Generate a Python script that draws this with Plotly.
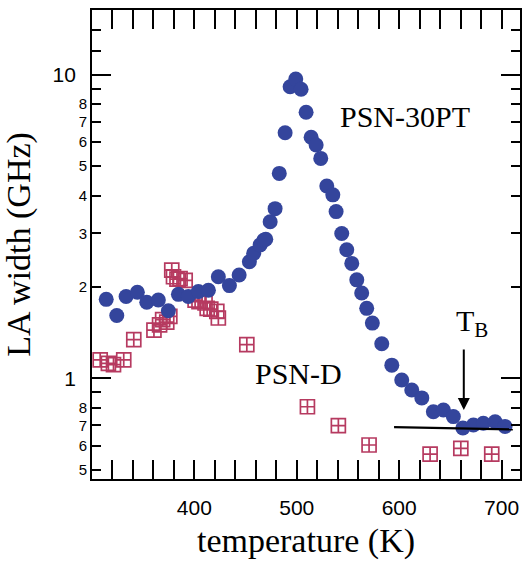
import numpy as np
import plotly.graph_objects as go

# PSN-30PT (filled circles)
t_30pt = [313.9, 324.2, 333.3, 344.3, 353.5, 364.8, 374.6, 384.4, 394.1, 403.9,
          413.7, 423.4, 434.2, 443.7, 453.7, 457.9, 464.2, 467.7, 469.7, 474.0,
          478.8, 482.9, 488.6, 493.5, 499.0, 504.2, 509.1, 514.0, 518.9, 523.4,
          529.3, 535.2, 538.4, 543.9, 548.8, 553.7, 558.6, 563.4, 568.3, 573.8,
          583.0, 592.8, 602.5, 612.3, 622.1, 633.4, 643.2, 652.9, 662.2, 672.5,
          682.2, 693.7, 703.4]
w_30pt = [1.82, 1.61, 1.86, 1.92, 1.78, 1.81, 1.67, 1.89, 1.86, 1.93,
          1.95, 2.16, 2.02, 2.19, 2.42, 2.58, 2.75, 2.85, 2.87, 3.28,
          3.62, 4.73, 6.44, 9.13, 9.68, 8.95, 7.52, 6.22, 5.87, 5.30,
          4.30, 4.02, 3.54, 3.00, 2.65, 2.39, 2.11, 1.91, 1.70, 1.52,
          1.30, 1.105, 0.987, 0.915, 0.862, 0.776, 0.786, 0.748, 0.686, 0.702,
          0.711, 0.719, 0.694]

# PSN-D (open squares with cross)
t_d = [308.0, 316.0, 321.0, 331.0, 340.8, 360.5, 366.0, 369.0, 373.0, 376.0,
       377.9, 379.6, 383.0, 386.0, 391.0, 400.7, 404.5, 410.4, 412.5, 416.0,
       421.9, 423.4, 451.2, 510.4, 540.6, 570.6, 630.2, 660.2, 690.4]
w_d = [1.15, 1.12, 1.11, 1.15, 1.34, 1.44, 1.50, 1.56, 1.53, 1.60,
       2.27, 2.16, 2.12, 2.13, 2.10, 1.81, 1.79, 1.77, 1.70, 1.69,
       1.66, 1.58, 1.29, 0.806, 0.698, 0.603, 0.563, 0.588, 0.563]

# baseline line near T_B
t_line = [595.0, 711.0]
w_line = [0.690, 0.679]

# T_B arrow
tb_x = 663.1
tb_top = 1.258
tb_tip = 0.786

x_ticks = [400, 500, 600, 700]
y_major = [1, 10]
y_major_text = ['1\u00a0', '10\u00a0']
y_small = [0.5, 0.6, 0.7, 0.8, 2, 3, 4, 5, 6, 7, 8]
y_small_text = ['5', '6', '7', '8', '2', '3', '4', '5', '6', '7', '8']
y_minor_unlabeled = [0.9, 9, 12, 14]

x_range = [300, 718]
y_range = [-0.3317, 1.2131]

blue = '#34459C'
red = '#B63A60'

fig = go.Figure()
fig.add_trace(go.Scatter(x=t_d, y=w_d, mode='markers',
                         marker=dict(symbol='square-cross-open', size=14,
                                     color=red, line=dict(width=1.7, color=red)),
                         showlegend=False))
fig.add_trace(go.Scatter(x=t_30pt, y=w_30pt, mode='markers',
                         marker=dict(symbol='circle', size=15, color=blue,
                                     line=dict(width=0)),
                         showlegend=False))
fig.add_trace(go.Scatter(x=t_line, y=w_line, mode='lines',
                         line=dict(color='black', width=2.2),
                         showlegend=False, yaxis='y2'))

tickfont_big = dict(family='Liberation Sans, Arial', size=21, color='black')
tickfont_small = dict(family='Liberation Sans, Arial', size=15, color='black')
serif = 'Liberation Serif, Times New Roman'

fig.update_layout(
    width=522, height=565,
    margin=dict(l=92, r=2, t=10, b=86, autoexpand=False),
    paper_bgcolor='white', plot_bgcolor='white',
    xaxis=dict(range=x_range, tickvals=x_ticks, ticks='inside', ticklen=19,
               tickwidth=2, tickcolor='black', showline=True, linewidth=2,
               linecolor='black', mirror='allticks', showgrid=False, zeroline=False,
               tickfont=tickfont_big, ticklabelstandoff=9, automargin=False,
               minor=dict(dtick=20, tick0=300, ticks='inside', ticklen=10,
                          tickwidth=2, tickcolor='black', showgrid=False),
               title=dict(text='temperature (K)',
                          font=dict(family=serif, size=34, color='black'),
                          standoff=10)),
    yaxis=dict(type='log', range=y_range, tickvals=y_major, ticktext=y_major_text,
               ticks='inside', ticklen=19, tickwidth=2, tickcolor='black',
               showline=True, linewidth=2, linecolor='black', mirror='allticks',
               showgrid=False, zeroline=False, tickfont=tickfont_big,
               ticklabelstandoff=4, automargin=False,
               minor=dict(tickvals=y_minor_unlabeled, ticks='inside', ticklen=9,
                          tickwidth=2, tickcolor='black', showgrid=False),
               title=dict(text='LA width (GHz)',
                          font=dict(family=serif, size=34, color='black'),
                          standoff=20)),
    yaxis2=dict(type='log', range=y_range, overlaying='y', side='left',
                anchor='x', tickvals=y_small, ticktext=y_small_text,
                ticks='inside', ticklen=9, tickwidth=2, tickcolor='black',
                mirror='allticks', showline=False, showgrid=False, zeroline=False,
                tickfont=tickfont_small, ticklabelstandoff=4, automargin=False),
    annotations=[
        dict(x=605.8, y=np.log10(7.3), xref='x', yref='y', text='PSN-30PT',
             showarrow=False, font=dict(family=serif, size=30, color='black'),
             xanchor='center', yanchor='middle'),
        dict(x=501.8, y=np.log10(1.04), xref='x', yref='y', text='PSN-D',
             showarrow=False, font=dict(family=serif, size=30, color='black'),
             xanchor='center', yanchor='middle'),
        dict(x=653.6, y=np.log10(1.52), xref='x', yref='y',
             text='T<sub>B</sub>', showarrow=False,
             font=dict(family=serif, size=30, color='black'),
             xanchor='left', yanchor='middle'),
        dict(x=tb_x, y=np.log10(tb_tip), xref='x', yref='y', text='',
             showarrow=True, axref='x', ayref='y', ax=tb_x, ay=np.log10(tb_top),
             arrowhead=2, arrowsize=1.2, arrowwidth=2, arrowcolor='black'),
    ],
)

fig.write_html('out.html', config={'displayModeBar': False},
               post_script="document.body.style.margin='0';document.body.style.overflow='hidden';")
